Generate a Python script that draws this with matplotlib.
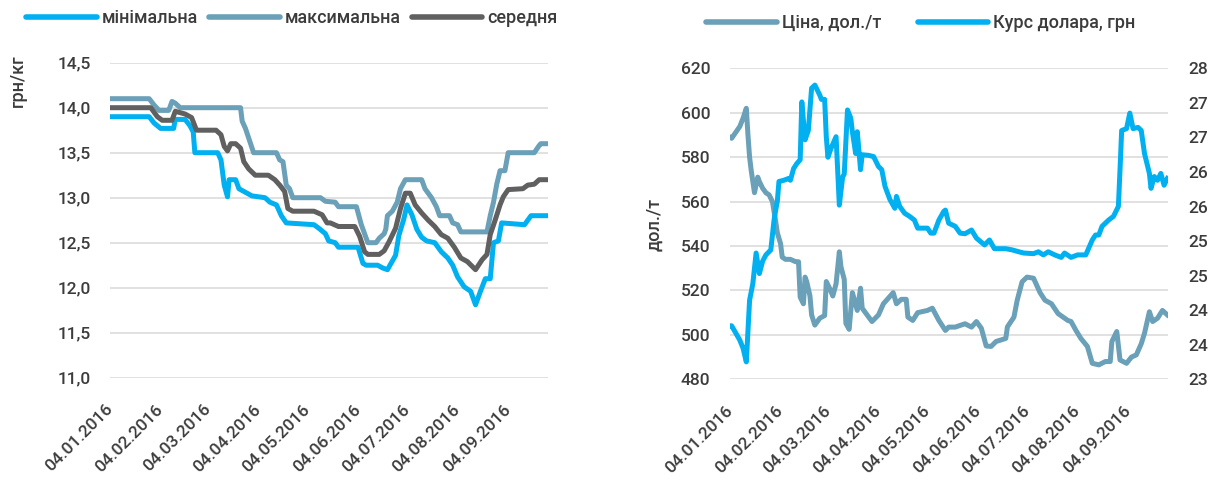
import numpy as np
import pandas as pd
import matplotlib
matplotlib.use("Agg")
import matplotlib.pyplot as plt
from matplotlib.lines import Line2D

plt.rcParams['font.family'] = ['Roboto', 'DejaVu Sans']
plt.rcParams['font.weight'] = 'medium'

# ---------------- data ----------------
start_date = "2016-01-04"
tick_labels = ["04.01.2016", "04.02.2016", "04.03.2016", "04.04.2016", "04.05.2016",
               "04.06.2016", "04.07.2016", "04.08.2016", "04.09.2016"]
last_day = 268.4

# left chart, грн/кг  (days counted from 04.01.2016)
min_days = [0, 24, 27, 31, 39, 40, 46, 49, 51, 52, 66, 68, 70, 72, 73, 77, 79, 83, 87, 95,
            98, 102, 105, 108, 125, 128, 132, 134, 138, 140, 152, 155, 157, 164, 167, 170, 175, 177, 180, 182,
            185, 188, 191, 194, 199, 203, 207, 210, 213, 217, 221, 224, 227, 230, 233, 235, 238, 240, 254, 256,
            258, 268]
min_vals = [13.9, 13.9, 13.83, 13.77, 13.77, 13.87, 13.87, 13.8, 13.73, 13.5, 13.5, 13.42, 13.14, 13.01, 13.2, 13.2, 13.1, 13.06, 13.02, 13.0,
            12.95, 12.92, 12.8, 12.72, 12.7, 12.66, 12.6, 12.52, 12.5, 12.45, 12.45, 12.27, 12.25, 12.25, 12.22, 12.2, 12.36, 12.58, 12.76, 12.92,
            12.81, 12.65, 12.56, 12.52, 12.5, 12.4, 12.33, 12.25, 12.12, 12.01, 11.96, 11.81, 11.96, 12.1, 12.1, 12.5, 12.52, 12.72, 12.7, 12.75,
            12.8, 12.8]

max_days = [0, 24, 27, 30, 36, 38, 40, 43, 80, 81, 83, 88, 102, 104, 106, 108, 110, 112, 129, 132,
            138, 140, 151, 154, 158, 163, 165, 168, 169, 170, 173, 176, 178, 181, 191, 193, 195, 197, 200, 202,
            208, 210, 213, 215, 231, 233, 235, 237, 239, 242, 244, 260, 263, 264, 268]
max_vals = [14.1, 14.1, 14.03, 13.97, 13.97, 14.07, 14.05, 14.0, 14.0, 13.85, 13.77, 13.5, 13.5, 13.42, 13.4, 13.14, 13.1, 13.0, 13.0, 12.96,
            12.95, 12.9, 12.9, 12.7, 12.5, 12.5, 12.55, 12.6, 12.65, 12.8, 12.85, 12.95, 13.1, 13.2, 13.2, 13.1, 13.05, 13.0, 12.9, 12.8,
            12.8, 12.72, 12.7, 12.62, 12.62, 12.8, 12.95, 13.15, 13.3, 13.3, 13.5, 13.5, 13.58, 13.6, 13.6]

avg_days = [0, 25, 29, 32, 38, 40, 46, 50, 53, 65, 68, 70, 72, 74, 77, 80, 82, 85, 89, 97,
            101, 104, 107, 109, 112, 125, 130, 133, 135, 140, 150, 153, 156, 158, 165, 168, 171, 175, 178, 181,
            184, 187, 191, 195, 199, 203, 207, 211, 215, 219, 224, 228, 231, 233, 236, 239, 241, 244, 253, 256,
            260, 263, 268]
avg_vals = [14.0, 14.0, 13.9, 13.86, 13.86, 13.96, 13.93, 13.89, 13.75, 13.75, 13.7, 13.57, 13.52, 13.6, 13.6, 13.55, 13.4, 13.32, 13.25, 13.25,
            13.2, 13.14, 13.07, 12.88, 12.85, 12.85, 12.81, 12.72, 12.72, 12.68, 12.68, 12.57, 12.4, 12.37, 12.37, 12.41, 12.51, 12.66, 12.88, 13.05,
            13.05, 12.92, 12.83, 12.75, 12.68, 12.59, 12.55, 12.45, 12.33, 12.29, 12.2, 12.31, 12.37, 12.59, 12.75, 12.92, 13.01, 13.09, 13.1, 13.14,
            13.15, 13.2, 13.2]

# right chart: price, дол./т
price_days = [0, 1, 6, 8, 10, 11, 12, 13, 15, 17, 18, 20, 22, 24, 26, 28, 29, 31, 32, 34,
              37, 40, 42, 43, 45, 46, 47, 49, 50, 52, 55, 58, 59, 61, 63, 65, 67, 68, 70, 71,
              73, 75, 78, 80, 81, 87, 91, 94, 100, 102, 105, 108, 109, 112, 115, 121, 124, 128, 132, 134,
              138, 144, 148, 151, 154, 157, 160, 163, 169, 170, 174, 176, 179, 182, 186, 190, 193, 197, 201, 207,
              209, 212, 215, 219, 222, 226, 230, 233, 234, 237, 239, 243, 246, 249, 252, 254, 257, 259, 262, 265,
              268]
price_vals = [589, 588.5, 593.8, 597.5, 602, 590, 580, 574, 564, 571, 569, 566, 564, 563, 560, 551, 546, 541, 535, 534,
              534, 533, 532.9, 517, 514, 526, 524, 517.5, 509, 504.4, 507.5, 508.7, 524, 521, 517.5, 523, 537.4, 530.6, 525, 505.2,
              502.5, 519, 511, 521, 512, 506, 509, 514, 519, 514, 516, 516, 508, 506.5, 510, 511, 512, 506.5, 502, 503.5,
              503.5, 505, 503.5, 506, 503, 495, 494.8, 497, 498.4, 503.6, 508, 515.6, 523.9, 526, 525.5, 519, 515.6, 514, 509.6, 506.5,
              506, 502, 498.4, 494.8, 487.2, 486.5, 488, 488, 497, 501.5, 488.7, 487.2, 490, 491, 496, 500.7, 510.4, 506, 507.5, 511,
              509]

# right chart: USD rate, грн
usd_days = [0, 1, 6, 8, 10, 12, 14, 16, 18, 20, 22, 25, 27, 28, 29, 30, 33, 36, 37, 39,
            41, 43, 44, 46, 48, 50, 52, 55, 56, 58, 59, 60, 62, 65, 67, 69, 70, 72, 74, 75,
            77, 78, 80, 81, 85, 88, 91, 93, 95, 98, 101, 102, 104, 107, 110, 113, 115, 121, 123, 125,
            128, 131, 132, 134, 138, 141, 144, 148, 151, 156, 159, 162, 169, 173, 177, 180, 186, 189, 192, 195,
            199, 203, 205, 209, 213, 218, 222, 224, 226, 228, 232, 235, 238, 239, 240, 243, 245, 247, 250, 252,
            254, 257, 258, 260, 262, 264, 266, 268]
usd_vals = [23.86, 23.86, 23.63, 23.5, 23.28, 24.27, 24.54, 25.03, 24.7, 24.9, 25.0, 25.08, 25.56, 25.72, 25.86, 26.18, 26.2, 26.23, 26.2, 26.39,
            26.47, 26.53, 27.46, 26.85, 27.0, 27.68, 27.73, 27.57, 27.5, 27.5, 26.9, 26.57, 26.72, 26.9, 25.8, 26.25, 26.3, 27.33, 27.2, 26.98,
            26.63, 26.98, 26.37, 26.61, 26.6, 26.58, 26.42, 26.37, 26.1, 25.89, 25.75, 25.94, 25.78, 25.67, 25.62, 25.56, 25.43, 25.43, 25.35, 25.35,
            25.56, 25.7, 25.72, 25.51, 25.46, 25.35, 25.34, 25.4, 25.27, 25.16, 25.24, 25.1, 25.1, 25.08, 25.05, 25.03, 25.02, 25.05, 25.0, 25.05,
            25.0, 24.96, 25.03, 24.96, 25.0, 25.0, 25.24, 25.32, 25.32, 25.46, 25.56, 25.62, 25.78, 26.37, 27.0, 27.03, 27.28, 27.03, 27.05, 27.0,
            26.63, 26.31, 26.07, 26.26, 26.2, 26.31, 26.12, 26.23]

# ---------------- style ----------------
C_MIN = "#00b0f0"
C_MAX = "#6aa0b8"
C_AVG = "#606060"
C_TXT = "#3c3c3c"
C_GRID = "#d9d9d9"
LW = 3.6
FS = 12.5

base = pd.Timestamp(start_date)


def to_dates(days):
    return base + pd.to_timedelta(np.asarray(days, dtype=float), unit="D")


tick_pos = pd.to_datetime(tick_labels, format="%d.%m.%Y")

W, H = 1215, 483
fig = plt.figure(figsize=(W / 100, H / 100), dpi=100)
axL = fig.add_axes([110 / W, (H - 377.7) / H, 438 / W, 315 / H])
axR = fig.add_axes([730 / W, (H - 379.3) / H, 438 / W, 311 / H])
axR2 = axR.twinx()


def style_axis(ax):
    for s in ax.spines.values():
        s.set_visible(False)
    ax.set_xlim(base, base + pd.Timedelta(days=last_day))
    ax.set_xticks(tick_pos)
    ax.set_xticklabels(tick_labels)
    ax.tick_params(axis="both", length=0, labelsize=FS, colors=C_TXT)
    ax.tick_params(axis="y", pad=14)
    ax.tick_params(axis="x", pad=21)
    for lab in ax.get_xticklabels():
        lab.set_rotation(45)
        lab.set_ha("right")
        lab.set_va("center")
        lab.set_rotation_mode("anchor")
    ax.grid(axis="y", color=C_GRID, lw=1.1)
    ax.grid(axis="x", visible=False)
    ax.set_axisbelow(True)


# left panel
axL.plot(to_dates(min_days), min_vals, color=C_MIN, lw=LW, solid_joinstyle="round")
axL.plot(to_dates(max_days), max_vals, color=C_MAX, lw=LW, solid_joinstyle="round")
axL.plot(to_dates(avg_days), avg_vals, color=C_AVG, lw=LW, solid_joinstyle="round")
axL.set_ylim(11.0, 14.5)
axL.set_yticks(np.arange(11.0, 14.51, 0.5))
axL.set_yticklabels([f"{v:.1f}".replace(".", ",") for v in np.arange(11.0, 14.51, 0.5)])
style_axis(axL)

# right panel
axR.plot(to_dates(price_days), price_vals, color=C_MAX, lw=LW, solid_joinstyle="round")
axR2.plot(to_dates(usd_days), usd_vals, color=C_MIN, lw=LW, solid_joinstyle="round")
axR.set_ylim(480, 620)
axR.set_yticks(np.arange(480, 621, 20))
axR2.set_ylim(23, 28)
r_ticks = np.linspace(23, 28, 10)
axR2.set_yticks(r_ticks)
axR2.set_yticklabels([f"{v:.0f}" for v in r_ticks])
style_axis(axR)
for s in axR2.spines.values():
    s.set_visible(False)
axR2.tick_params(axis="y", length=0, labelsize=FS, colors=C_TXT, pad=15)
axR2.grid(False)

# axis titles
fig.text(18 / W, 1 - 81 / H, "грн/кг", rotation=90, ha="center", va="center", fontsize=FS + 0.5, color=C_TXT)
fig.text(654 / W, 1 - 224 / H, "дол./т", rotation=90, ha="center", va="center", fontsize=FS + 0.5, color=C_TXT)

# legends
leg_font = {"size": FS + 0.5, "weight": "medium"}
hL = [Line2D([], [], color=c, lw=LW + 0.4, solid_capstyle="round") for c in (C_MIN, C_MAX, C_AVG)]
fig.legend(hL, ["мінімальна", "максимальна", "середня"], loc="center",
           bbox_to_anchor=(292 / W, 1 - 18 / H), ncol=3, frameon=False, prop=leg_font,
           handlelength=3.9, handletextpad=0.3, columnspacing=0.6, labelcolor=C_TXT)
hR = [Line2D([], [], color=c, lw=LW + 0.4, solid_capstyle="round") for c in (C_MAX, C_MIN)]
fig.legend(hR, ["Ціна, дол./т", "Курс долара, грн"], loc="center",
           bbox_to_anchor=(921 / W, 1 - 23 / H), ncol=2, frameon=False, prop=leg_font,
           handlelength=3.9, handletextpad=0.3, columnspacing=2.0, labelcolor=C_TXT)

fig.savefig("out.png", dpi=100, facecolor="white")
